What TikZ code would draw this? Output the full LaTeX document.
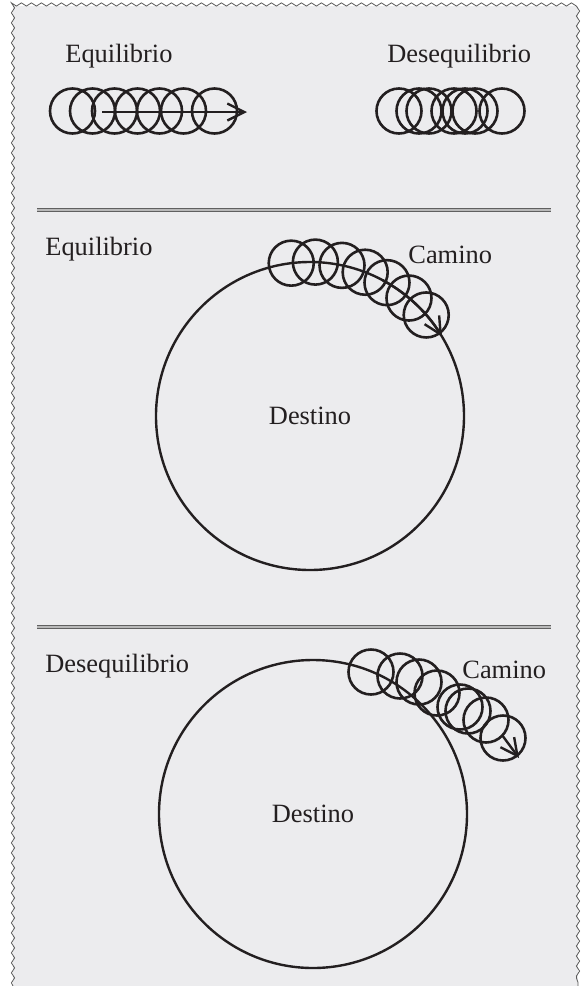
\documentclass[tikz,border=0pt]{standalone}
\usepackage{fontspec}
\setmainfont{Liberation Serif}
\usetikzlibrary{arrows.meta, decorations.pathmorphing}
\definecolor{panelgray}{RGB}{236,236,238}
\definecolor{inkblack}{RGB}{35,31,32}
\tikzset{
	caption/.style = {inkblack, font=\fontsize{13.2}{15}\selectfont, anchor=base west, inner sep=0pt},
	ring/.style = {draw=inkblack, line width=1.3pt},
	target/.style = {circle, draw=inkblack, line width=1.2pt, minimum size=154pt, inner sep=0pt, outer sep=0pt, font=\fontsize{13.2}{15}\selectfont, text=inkblack},
	walk/.style = {draw=inkblack, line width=1.2pt, -{Straight Barb[length=8.5pt,width=8.5pt]}},
	divider/.style = {draw=gray!75!black, line width=0.6pt, double=gray!55, double distance=0.7pt},
	frame/.style = {draw=gray!70!black, line width=0.4pt, decorate, decoration={snake, segment length=5pt, amplitude=0.8pt}},
}

\begin{document}
\begin{tikzpicture}[x=0.5pt, y=-0.5pt]
	\useasboundingbox (0,0) rectangle (585,986);
	\fill[panelgray] (13,6) rectangle (578,986);
	\draw[frame] (13,986) -- (13,6) -- (578,6) -- (578,986);

	% top: two walkers side by side
	\node[caption] (eqTop) at (65,62) {Equilibrio};
	\node[caption] (deqTop) at (387,62) {Desequilibrio};
	\foreach \x in {72.5,92.5,114.5,137.5,159.5,183.5,214.5}
		\draw[ring] (\x,111) circle[radius=11.25pt];
	\coordinate (runStart) at (102,112);
	\coordinate (runEnd) at (247,112);
	\draw[walk] (runStart) -- (runEnd);
	\foreach \x in {399,419,429,454,465,475,502}
		\draw[ring] (\x,111) circle[radius=11.25pt];

	\draw[divider] (37,210) -- (551,210);

	% middle: staying on the path
	\node[caption] (eqMid) at (45,255) {Equilibrio};
	\node[caption] (pathMid) at (408,263) {Camino};
	\node[target] (destA) at (310,416) {Destino};
	\foreach \a in {97,88,78.5,69,60,50.5,41.5}
		\draw[ring] (destA.\a) circle[radius=11.25pt];
	\draw[walk] (destA.62) arc[start angle=62, end angle=31, radius=77pt];

	\draw[divider] (37,627) -- (551,627);

	% bottom: drifting away
	\node[caption] (deqBot) at (45,672) {Desequilibrio};
	\node[caption] (pathBot) at (462,678) {Camino};
	\node[target] (destB) at (313,814) {Destino};
	\foreach \p in {(371,672),(400,676),(419,682),(437,693),(460,707),(468,711),(486,720),(503,738)}
		\draw[ring] \p circle[radius=11.25pt];
	\coordinate (driftStart) at (502,735);
	\coordinate (driftEnd) at (519,758);
	\draw[walk] (driftStart) -- (driftEnd);
\end{tikzpicture}
\end{document}
